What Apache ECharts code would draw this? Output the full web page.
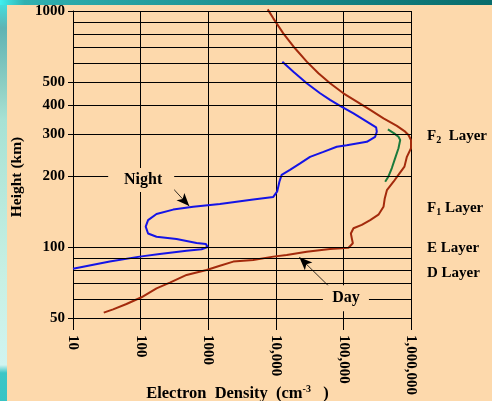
<!DOCTYPE html>
<html><head><meta charset="utf-8">
<script src="https://cdn.jsdelivr.net/npm/echarts@6/dist/echarts.min.js"></script>
<style>html,body{margin:0;padding:0;background:#FDD9AC}#c{width:492px;height:401px}</style>
</head><body><div id="c"></div>
<script>
// ---- data ----
const xTickLabels = ['10', '100', '1000', '10,000', '100,000', '1,000,000'];
const yTickValues = [50, 100, 200, 300, 400, 500, 1000];
const yGridValues = [60, 70, 80, 90, 100, 200, 300, 400, 500, 600, 700, 800, 900, 1000];

const nightDensity = [12500, 18200, 28700, 45200, 63500, 89300, 141000, 222000, 305000, 312000, 295000, 222000, 112000, 79800, 50600, 32100, 22900, 16200, 12200, 11300, 10500, 9180, 4640, 1490, 600, 303, 172, 129, 119, 129, 172, 340, 673, 925, 980, 798, 479, 192, 97, 35, 10];
const nightHeight = [610, 553, 494, 448, 420, 396, 368, 340, 321, 308, 293, 279, 270, 266, 253, 241, 226, 212, 202, 189, 172, 163, 159, 152, 148, 144, 138, 130, 122, 114, 110.5, 108, 104, 103, 100, 97.8, 96.4, 93.4, 91, 86.7, 80.9];

const dayDensity = [7590, 9180, 12900, 19200, 28700, 42700, 63500, 100000, 158000, 249000, 392000, 618000, 820000, 918000, 1000000, 1000000, 869000, 800000, 676000, 551000, 440000, 408000, 392000, 330000, 249000, 187000, 141000, 129000, 133000, 138000, 119000, 63500, 28700, 14500, 9180, 4640, 2350, 1490, 946, 479, 271, 172, 103, 61.8, 39.2, 28.5];
const dayHeight = [1016, 931, 804, 695, 610, 545, 494, 448, 413, 381, 351, 326, 308, 298, 284, 262, 241, 219, 205, 189, 174, 160, 148, 137, 130, 124, 120, 114, 109, 103.7, 99.3, 98, 95.5, 92.5, 91, 88.1, 86.7, 83.3, 79.9, 76.1, 70.6, 66.8, 61.2, 57.3, 54.4, 52.7];

const greenDensity = [455000, 563000, 653000, 692000, 653000, 583000, 521000, 464000, 415000];
const greenHeight = [315, 303, 293, 284, 262, 238, 216, 199, 189];

const layerHeights = [295, 146, 99.3, 77.4];
const layerTexts = ['F{s|2}  Layer', 'F{s|1} Layer', 'E Layer', 'D Layer'];

const nightLabel = { text: 'Night', at: [102, 192] };
const dayLabel = { text: 'Day', at: [109000, 60.6] };
const nightArrow = [[271, 183], [524, 149]];
const dayArrow = [[62100, 67.8], [22300, 90.4]];

// ---- helpers ----
const zip = (a, b) => a.map((v, i) => [v, b[i]]);
const FONT = "'Liberation Serif', 'Times New Roman', serif";
const PEACH = '#FDD9AC';

const chart = echarts.init(document.getElementById('c'), null, { renderer: 'canvas' });
chart.setOption({
  backgroundColor: PEACH,
  animation: false,
  graphic: [
    { type: 'rect', left: 0, top: 0, z: 100, shape: { width: 7, height: 401 },
      style: { fill: new echarts.graphic.LinearGradient(0, 0, 0, 1, [
        { offset: 0, color: '#3ee6e6' }, { offset: 0.07, color: '#5fb3b3' },
        { offset: 0.22, color: '#8fd0c4' }, { offset: 0.3, color: '#a8e2d4' },
        { offset: 0.7, color: '#c8f0e4' }, { offset: 0.91, color: '#d0f4f0' },
        { offset: 0.93, color: '#3cc6c6' }, { offset: 1, color: '#38c4c4' }]) } },
    { type: 'rect', left: 0, top: 0, z: 101, shape: { width: 492, height: 5 },
      style: { fill: new echarts.graphic.LinearGradient(0, 0, 1, 0, [
        { offset: 0, color: '#40f0f0' }, { offset: 0.05, color: '#30b0b0' },
        { offset: 1, color: '#086c6c' }]) } }
  ],
  grid: { left: 73, right: 81, top: 11, bottom: 83, containLabel: false, outerBoundsMode: 'none' },
  xAxis: {
    type: 'log', logBase: 10, min: 10, max: 1000000,
    name: 'Electron  Density  (cm{sup|-3}   )',
    nameLocation: 'middle', nameGap: 66, nameMoveOverlap: false,
    nameTextStyle: { fontFamily: FONT, fontWeight: 'bold', fontSize: 16.5, color: '#000', padding: [0, 9, 0, 0],
      rich: { sup: { fontFamily: FONT, fontWeight: 'bold', fontSize: 10, color: '#000', padding: [0, 0, 10, 0] } } },
    axisLine: { show: true, lineStyle: { color: '#000', width: 1 } },
    axisTick: { show: true, length: 12, lineStyle: { color: '#000', width: 1 } },
    axisLabel: { rotate: -90, margin: 17, fontFamily: FONT, fontWeight: 'bold', fontSize: 15, color: '#000',
      formatter: v => xTickLabels[Math.round(Math.log10(v)) - 1] },
    splitLine: { show: true, lineStyle: { color: '#000', width: 1 } }
  },
  yAxis: [{
    type: 'log', logBase: 10, min: 50, max: 1000,
    name: 'Height (km)', nameLocation: 'middle', nameGap: 48, nameMoveOverlap: false,
    nameTextStyle: { fontFamily: FONT, fontWeight: 'bold', fontSize: 15.5, color: '#000', padding: [0, 25, 0, 0] },
    axisLine: { show: true, lineStyle: { color: '#000', width: 1 } },
    axisTick: { show: true, length: 5, customValues: yTickValues, lineStyle: { color: '#000', width: 1 } },
    axisLabel: { customValues: yTickValues, margin: 8, fontFamily: FONT, fontWeight: 'bold', fontSize: 15, color: '#000',
      formatter: v => String(Math.round(v)) },
    splitLine: { show: false }
  }, {
    type: 'log', logBase: 10, min: 50, max: 1000, position: 'right',
    axisLine: { show: false }, axisTick: { show: false }, splitLine: { show: false },
    axisLabel: { customValues: layerHeights, margin: 16, align: 'left', fontFamily: FONT, fontWeight: 'bold', fontSize: 15, color: '#000',
      formatter: v => {
        let best = 0;
        layerHeights.forEach((h, i) => { if (Math.abs(Math.log(h) - Math.log(v)) < Math.abs(Math.log(layerHeights[best]) - Math.log(v))) best = i; });
        return layerTexts[best];
      },
      rich: { s: { fontFamily: FONT, fontWeight: 'bold', fontSize: 10, color: '#000', padding: [9, 0, 0, 0] } } }
  }],
  series: [
    { type: 'line', name: 'grid', data: [], z: 1, silent: true,
      markLine: { silent: true, symbol: 'none', label: { show: false }, animation: false,
        lineStyle: { color: '#000', width: 1, type: 'solid' },
        data: yGridValues.map(v => ({ yAxis: v })) } },
    { type: 'line', name: 'Night', data: zip(nightDensity, nightHeight), showSymbol: false, symbol: 'none', z: 4,
      lineStyle: { color: '#1414e6', width: 2 }, itemStyle: { color: '#1414e6' } },
    { type: 'line', name: 'Day', data: zip(dayDensity, dayHeight), showSymbol: false, symbol: 'none', z: 4, clip: false,
      lineStyle: { color: '#a32a0c', width: 2 }, itemStyle: { color: '#a32a0c' } },
    { type: 'line', name: 'Model', data: zip(greenDensity, greenHeight), showSymbol: false, symbol: 'none', z: 4,
      lineStyle: { color: '#1b7a3c', width: 2 }, itemStyle: { color: '#1b7a3c' } },
    { type: 'line', name: 'annot', data: [], z: 5, silent: true,
      markPoint: { silent: true, animation: false,
        data: [
          { coord: nightLabel.at, symbol: 'rect', symbolSize: [66, 24], itemStyle: { color: PEACH },
            label: { show: true, position: 'inside', formatter: nightLabel.text, fontFamily: FONT, fontWeight: 'bold', fontSize: 16, color: '#000', offset: [2, 0] } },
          { coord: dayLabel.at, symbol: 'rect', symbolSize: [46, 26], itemStyle: { color: PEACH },
            label: { show: true, position: 'inside', formatter: dayLabel.text, fontFamily: FONT, fontWeight: 'bold', fontSize: 16, color: '#000' } }
        ] },
      markLine: { silent: true, animation: false, symbol: ['none', 'arrow'], symbolSize: [8, 13], label: { show: false },
        lineStyle: { color: '#000', width: 0.8, type: 'solid' },
        data: [
          [{ coord: nightArrow[0] }, { coord: nightArrow[1] }],
          [{ coord: dayArrow[0] }, { coord: dayArrow[1] }]
        ] } }
  ]
});
</script></body></html>
